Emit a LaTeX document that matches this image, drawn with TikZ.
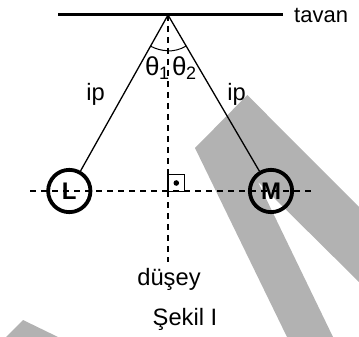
\documentclass[tikz,border=0pt]{standalone}
\usepackage{fontspec}
\setmainfont{Liberation Sans}
\tikzset{
  lbl/.style={inner sep=0pt,font=\fontsize{23.7}{26}\selectfont,text=black},
  taglbl/.style={inner sep=0pt,font=\fontsize{22}{24}\selectfont,text=black},
  anglelbl/.style={inner sep=0pt,font=\fontsize{26}{28}\selectfont,text=black},
  ball/.style={circle,draw=black,line width=3.8pt,minimum size=42.3pt,inner sep=0pt},
  balltext/.style={inner sep=0pt,font=\fontsize{24}{26}\selectfont\bfseries},
  guide/.style={line width=1.2pt,dash pattern=on 6pt off 5pt},
  wire/.style={line width=1.3pt},
}
\definecolor{wm}{gray}{0.70}
\begin{document}
\begin{tikzpicture}[x=1pt,y=-1pt]
\useasboundingbox (0,0) rectangle (359,337);
% watermark
\fill[wm] (247.3,95) -- (359,207) -- (359,282) -- (258,182) -- (333,337) -- (287,337) -- (195,148) -- cycle;
\fill[wm] (6,337) -- (23,320) -- (58,337) -- cycle;
% points
\coordinate (cl) at (58,15);
\coordinate (cr) at (283,15);
\coordinate (apex) at (168,15);
\coordinate (vend) at (168,262);
\coordinate (hl) at (30,191);
\coordinate (hr) at (312,191);
\node[ball] (L) at (69.3,191) {};
\node[ball] (M) at (271,191) {};
\node[balltext] (Lt) at (69.3,191) {L};
\node[balltext] (Mt) at (271,191) {M};
% lines
\draw[line width=3pt] (cl) -- (cr);
\draw[wire] (apex) -- (L);
\draw[wire] (apex) -- (M);
\draw[guide] (apex) -- (vend);
\draw[guide] (hl) -- (hr);
% angle arcs
\draw[line width=1pt] (150.3,46) arc[start angle=119.5,end angle=90,radius=36];
\draw[line width=1pt] (168,51) arc[start angle=90,end angle=60.5,radius=36];
% right-angle mark
\node[draw=black,line width=1.3pt,minimum size=16.5pt,inner sep=0pt] (sq) at (176.3,183) {};
\fill[black] (sq.center) circle (2.8);
% labels
\node[taglbl,anchor=west] (tavan) at (294,15) {tavan};
\node[lbl] (ipl) at (95.5,94) {ip};
\node[lbl] (ipr) at (236.5,94) {ip};
\node[anglelbl,anchor=base west] (t1) at (145,76) {θ\kern-0.5pt\raisebox{-4pt}{\fontsize{18}{20}\selectfont 1}};
\node[anglelbl,anchor=base west] (t2) at (172,76) {θ\kern-0.5pt\raisebox{-4pt}{\fontsize{18}{20}\selectfont 2}};
\node[lbl,anchor=base] (d) at (169,285) {düşey};
\node[lbl,anchor=base] (s) at (185,325) {Şekil I};
\end{tikzpicture}
\end{document}
